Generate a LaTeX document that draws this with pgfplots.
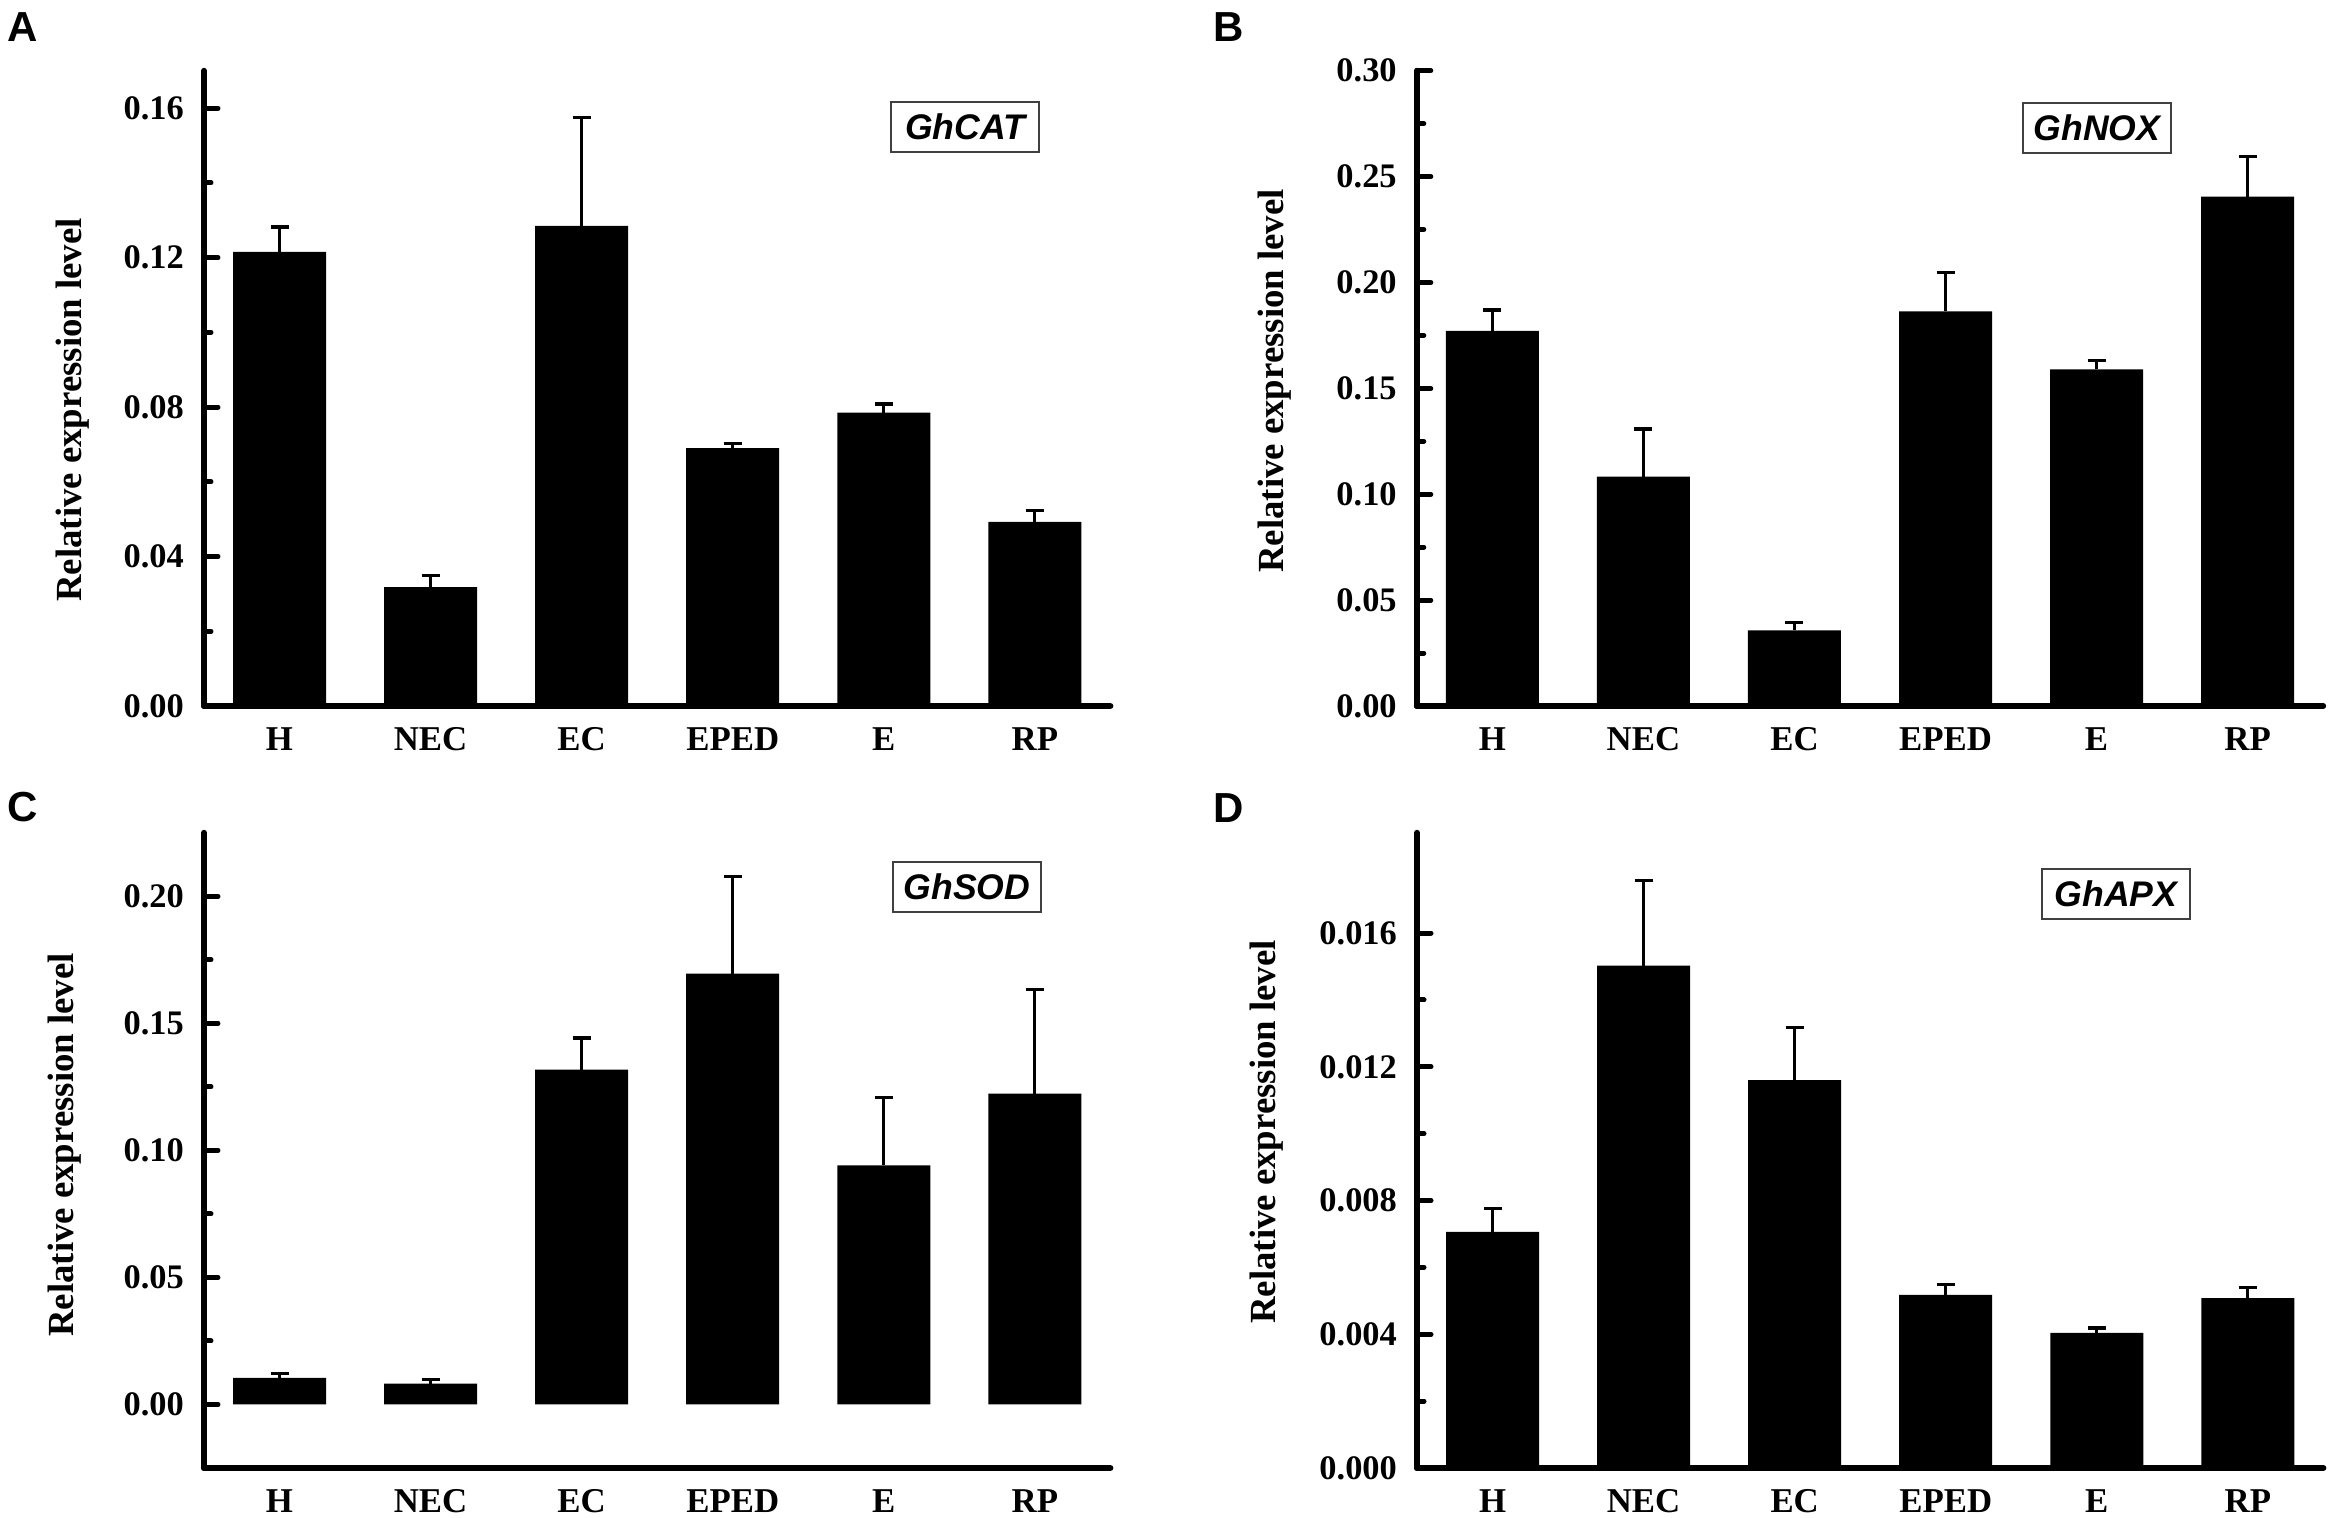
\documentclass[border=0pt]{standalone}
\usepackage{pgfplots}
\pgfplotsset{compat=1.18}
\usepackage{fontspec}
\setmainfont{Liberation Serif}
\newfontfamily\arialfont{Liberation Sans}

\pgfplotsset{
 panel/.style={
  scale only axis, width=226.6pt, height=158.8pt,
  anchor=south west,
  axis x line=bottom, axis y line=left,
  axis line style={-, line width=1.5pt, line cap=round},
  xmin=-0.5, xmax=5.5,
  xtick={0,...,5}, xticklabels={H,NEC,EC,EPED,E,RP},
  xtick style={draw=none},
  ybar, bar width=23.25pt,
  tick align=inside,
  major tick length=3.5pt, minor tick length=1.75pt,
  ytick style={line width=1.25pt, line cap=round, black},
  minor y tick num=1,
  scaled y ticks=false,
  /pgf/number format/assume math mode=true,
  yticklabel style={font=\bfseries\fontsize{8.6}{10}\selectfont, xshift=-1.5pt, /pgf/number format/.cd, fixed, fixed zerofill, precision=2},
  xticklabel style={font=\bfseries\fontsize{8.7}{10}\selectfont, yshift=-1.85pt},
 },
 bars/.style={fill=black, draw=none,
  error bars/.cd, y dir=plus, y explicit,
  error bar style={draw=black, solid, line width=0.8pt},
  error mark options={draw=black, rotate=90, mark size=2.25pt, line width=0.8pt}},
}
\tikzset{
 gene/.style={draw=black!75, line width=0.35pt, minimum width=37pt, minimum height=12.5pt, inner sep=0pt, font=\arialfont\bfseries\itshape\fontsize{8.9}{10}\selectfont},
 ylab/.style={rotate=90, anchor=center, font=\bfseries\fontsize{9.2}{10}\selectfont},
 letter/.style={anchor=base west, inner sep=0pt, font=\arialfont\bfseries\fontsize{10.5}{12}\selectfont},
}

\begin{document}
\begin{tikzpicture}
\useasboundingbox (0,0) rectangle (583.25pt,379.5pt);

% Panel A
\begin{axis}[panel, at={(51pt,203pt)}, ymin=0, ymax=0.17, ytick={0,0.04,...,0.161}]
\addplot[bars] coordinates {
 (0,0.1215) +- (0,0.0067)
 (1,0.0318) +- (0,0.0031)
 (2,0.1285) +- (0,0.0289)
 (3,0.0690) +- (0,0.0012)
 (4,0.0785) +- (0,0.0023)
 (5,0.0493) +- (0,0.0031)
};
\end{axis}

% Panel B
\begin{axis}[panel, at={(354.2pt,203pt)}, ymin=0, ymax=0.30, ytick={0,0.05,...,0.301}]
\addplot[bars] coordinates {
 (0,0.1772) +- (0,0.0098)
 (1,0.1083) +- (0,0.0225)
 (2,0.0357) +- (0,0.0037)
 (3,0.1864) +- (0,0.0183)
 (4,0.1590) +- (0,0.0042)
 (5,0.2406) +- (0,0.0189)
};
\end{axis}

% Panel C
\begin{axis}[panel, at={(51pt,12.5pt)}, ymin=-0.025, ymax=0.225, ytick={0,0.05,...,0.201}]
\addplot[bars] coordinates {
 (0,0.0105) +- (0,0.0016)
 (1,0.0082) +- (0,0.0016)
 (2,0.1318) +- (0,0.0124)
 (3,0.1696) +- (0,0.0382)
 (4,0.0941) +- (0,0.0267)
 (5,0.1223) +- (0,0.0411)
};
\end{axis}

% Panel D
\begin{axis}[panel, at={(354.25pt,12.5pt)}, ymin=0, ymax=0.019, ytick={0,0.004,...,0.0161},
  yticklabel style={/pgf/number format/precision=3}]
\addplot[bars] coordinates {
 (0,0.00706) +- (0,0.00070)
 (1,0.01503) +- (0,0.00255)
 (2,0.01160) +- (0,0.00158)
 (3,0.00518) +- (0,0.00032)
 (4,0.00404) +- (0,0.00015)
 (5,0.00508) +- (0,0.00033)
};
\end{axis}

% gene name boxes
\node[gene] at (241.25pt,347.75pt) {GhCAT};
\node[gene] at (524.25pt,347.5pt) {GhNOX};
\node[gene] at (241.75pt,157.75pt) {GhSOD};
\node[gene] at (529pt,156pt) {GhAPX};

% y labels
\node[ylab] at (18.25pt,277pt) {Relative expression level};
\node[ylab] at (318.75pt,284.25pt) {Relative expression level};
\node[ylab] at (16.25pt,93.25pt) {Relative expression level};
\node[ylab] at (316.75pt,96.5pt) {Relative expression level};

% panel letters
\node[letter] at (1.75pt,369pt) {A};
\node[letter] at (303.25pt,369pt) {B};
\node[letter] at (1.75pt,174pt) {C};
\node[letter] at (303.25pt,173.75pt) {D};
\end{tikzpicture}
\end{document}
